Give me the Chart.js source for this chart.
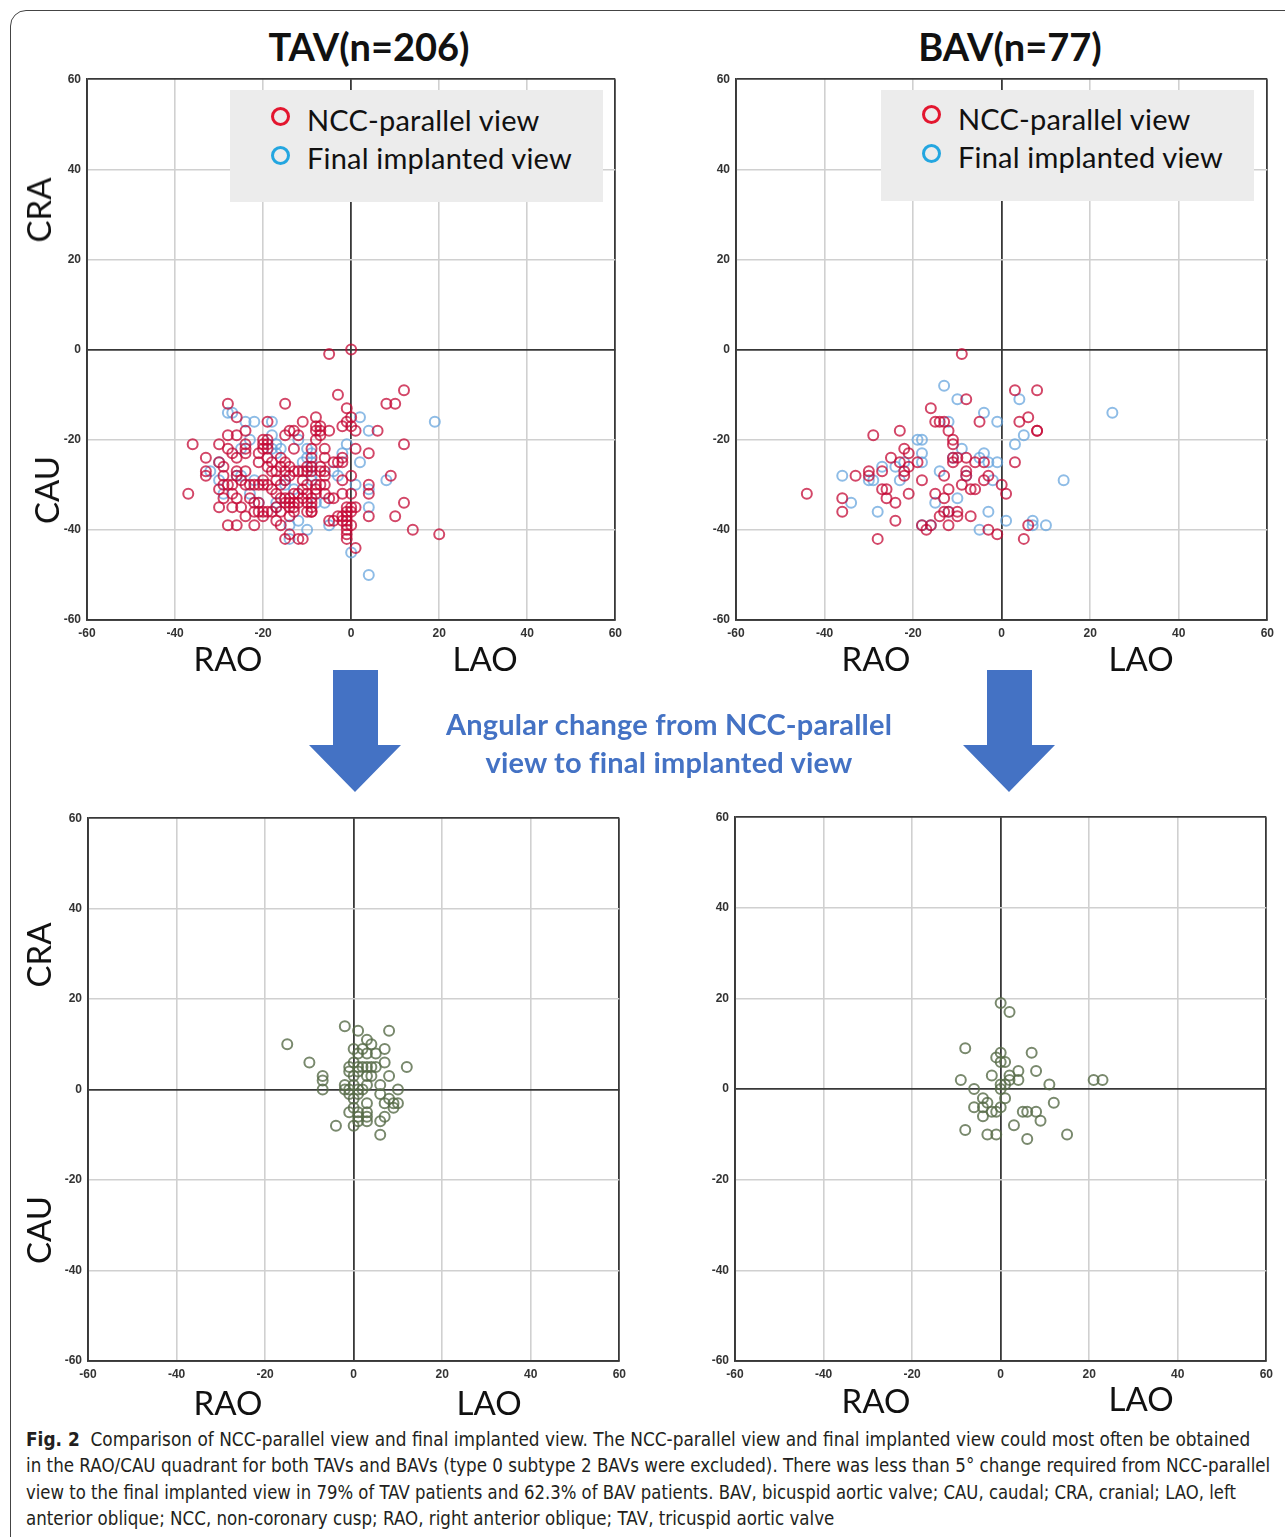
<!DOCTYPE html>
<html>
<head>
<meta charset="utf-8">
<script src="https://cdn.jsdelivr.net/npm/chart.js@4.4.1/dist/chart.umd.min.js"></script>
<style>
  body { margin: 0; width: 1285px; height: 1537px; position: relative; background: #fff; overflow: hidden; font-family: Lato, "Noto Sans", sans-serif; color: #111; }
  .frame { position: absolute; left: 10px; top: 10px; width: 1320px; height: 1580px; border: 1.5px solid #444; border-radius: 16px; }
  canvas { position: absolute; }
  .c { position: absolute; transform: translate(-50%, -50%); white-space: nowrap; }
  .rot { transform: translate(-50%, -50%) rotate(-90deg); }
  .title { font-weight: bold; font-size: 38px; }
  .axt { font-size: 33px; }
  .legend { position: absolute; background: #ececec; }
  .legend .mk { position: absolute; width: 13px; height: 13px; border-radius: 50%; border: 3px solid; }
  .legend .tx { position: absolute; font-size: 29px; white-space: nowrap; transform: translateY(-50%); letter-spacing: 0.2px; }
  .note { color: #4472c4; font-weight: bold; font-size: 29px; letter-spacing: 0.2px; }
  .cap { position: absolute; left: 26px; font-family: "Liberation Sans Narrow", "DejaVu Sans", sans-serif; font-size: 19px; color: #231f20; white-space: nowrap; transform-origin: 0 50%; }
</style>
</head>
<body>
<div class="frame"></div>

<div class="c title" style="left:369px;top:46px">TAV(n=206)</div>
<div class="c title" style="left:1010px;top:46px">BAV(n=77)</div>

<canvas id="tavTop"></canvas>
<canvas id="bavTop"></canvas>
<canvas id="tavBottom"></canvas>
<canvas id="bavBottom"></canvas>

<div class="legend" style="left:230px;top:90px;width:373px;height:112px">
  <div class="mk" style="left:41px;top:17px;border-color:#e3162f"></div>
  <div class="tx" style="left:77px;top:29px">NCC-parallel view</div>
  <div class="mk" style="left:41px;top:56px;border-color:#23a6e0"></div>
  <div class="tx" style="left:77px;top:67px">Final implanted view</div>
</div>
<div class="legend" style="left:881px;top:90px;width:373px;height:111px">
  <div class="mk" style="left:41px;top:15px;border-color:#e3162f"></div>
  <div class="tx" style="left:77px;top:28px">NCC-parallel view</div>
  <div class="mk" style="left:41px;top:54px;border-color:#23a6e0"></div>
  <div class="tx" style="left:77px;top:66px">Final implanted view</div>
</div>

<div class="c axt rot" style="left:38px;top:210px">CRA</div>
<div class="c axt rot" style="left:46px;top:490px">CAU</div>
<div class="c axt rot" style="left:38px;top:955px">CRA</div>
<div class="c axt rot" style="left:38px;top:1230px">CAU</div>
<div class="c axt" style="left:228px;top:658px">RAO</div>
<div class="c axt" style="left:485px;top:658px">LAO</div>
<div class="c axt" style="left:876px;top:658px">RAO</div>
<div class="c axt" style="left:1141px;top:658px">LAO</div>
<div class="c axt" style="left:228px;top:1402px">RAO</div>
<div class="c axt" style="left:489px;top:1402px">LAO</div>
<div class="c axt" style="left:876px;top:1400px">RAO</div>
<div class="c axt" style="left:1141px;top:1398px">LAO</div>

<svg style="position:absolute;left:0;top:0" width="1285" height="820">
  <polygon fill="#4472c4" points="333,670 378,670 378,745 401,745 355,792 309,745 333,745"/>
  <polygon fill="#4472c4" points="987,670 1032,670 1032,745 1055,745 1009,792 963,745 987,745"/>
</svg>
<div class="c note" style="left:669px;top:723px">Angular change from NCC-parallel</div>
<div class="c note" style="left:669px;top:761px">view to final implanted view</div>

<div class="cap" data-w="1224" style="top:1428px"><b>Fig. 2</b>&nbsp; Comparison of NCC-parallel view and final implanted view. The NCC-parallel view and final implanted view could most often be obtained</div>
<div class="cap" data-w="1244" style="top:1454px">in the RAO/CAU quadrant for both TAVs and BAVs (type 0 subtype 2 BAVs were excluded). There was less than 5° change required from NCC-parallel</div>
<div class="cap" data-w="1210" style="top:1481px">view to the final implanted view in 79% of TAV patients and 62.3% of BAV patients. BAV, bicuspid aortic valve; CAU, caudal; CRA, cranial; LAO, left</div>
<div class="cap" data-w="808" style="top:1507px">anterior oblique; NCC, non-coronary cusp; RAO, right anterior oblique; TAV, tricuspid aortic valve</div>

<script>
// angles in degrees: [RAO(-)/LAO(+), CAU(-)/CRA(+)]
const tavNcc = [
  [0,0],[-5,-1],[-3,-10],[12,-9],[8,-12],[10,-12],[-15,-12],[-28,-12],[-26,-15],[-19,-16],[-11,-16],[-8,-15],
  [-1,-13],[0,-15],[-2,-17],[-1,-16],[0,-17],[1,-18],[6,-18],[-7,-17],[-7,-18],[-7,-19],[-5,-18],[12,-21],
  [-36,-21],[4,-23],[1,-22],[0,-28],[4,-30],[4,-32],[9,-28],[12,-34],[4,-37],[10,-37],[14,-40],[20,-41],
  [0,-32],[0,-35],[-1,-35],[-1,-36],[-1,-37],[-1,-38],[0,-39],[-1,-40],[-1,-41],[-1,-42],[1,-44],[-2,-37],
  [-3,-37],[-5,-38],[-4,-38],[-33,-24],[-33,-27],[-33,-28],[-37,-32],[-30,-21],[-28,-19],[-26,-19],[-24,-18],
  [-28,-22],[-27,-23],[-26,-24],[-24,-21],[-24,-22],[-24,-23],[-30,-25],[-29,-26],[-29,-28],[-29,-30],[-28,-30],
  [-27,-30],[-30,-31],[-29,-33],[-30,-35],[-27,-35],[-25,-35],[-24,-37],[-28,-39],[-26,-39],[-22,-39],[-26,-27],
  [-26,-28],[-24,-27],[-25,-29],[-24,-30],[-23,-30],[-22,-30],[-21,-30],[-23,-33],[-22,-34],[-21,-34],[-22,-36],
  [-21,-36],[-20,-36],[-20,-37],[-19,-36],[-20,-30],[-19,-30],[-20,-29],[-20,-20],[-19,-20],[-20,-21],[-19,-21],
  [-20,-22],[-19,-22],[-21,-23],[-21,-25],[-19,-24],[-18,-25],[-19,-26],[-18,-27],[-17,-27],[-16,-26],[-16,-24],
  [-15,-25],[-14,-26],[-15,-19],[-14,-18],[-13,-18],[-12,-19],[-13,-22],[-15,-27],[-14,-28],[-15,-29],[-13,-27],
  [-12,-27],[-17,-29],[-16,-30],[-18,-31],[-17,-32],[-16,-33],[-15,-33],[-14,-33],[-13,-32],[-12,-32],[-11,-33],
  [-15,-34],[-14,-34],[-13,-34],[-12,-34],[-14,-35],[-13,-35],[-13,-36],[-14,-37],[-17,-35],[-16,-36],[-18,-36],
  [-17,-38],[-16,-39],[-14,-41],[-15,-42],[-12,-42],[-11,-42],[-11,-29],[-10,-30],[-11,-31],[-10,-32],[-10,-34],
  [-9,-35],[-10,-36],[-9,-36],[-9,-24],[-10,-26],[-10,-27],[-11,-27],[-8,-17],[-8,-18],[-8,-20],[-6,-22],[-6,-24],
  [-4,-25],[-3,-25],[-2,-25],[-2,-24],[-7,-26],[-7,-27],[-2,-29],[-6,-30],[-7,-30],[-6,-32],[-5,-33],[-4,-33],
  [-2,-32],[1,-35],[0,-36],[-2,-38],[-1,-39],[-9,-22],[-9,-26],[-9,-27],[-6,-27],[-6,-28],[-8,-30],[-8,-31],
  [-8,-32],[-9,-33],[-9,-34],[-9,-36],[-26,-33],[-27,-32]
];
const tavFinal = [
  [-28,-14],[-27,-14],[-24,-16],[-22,-16],[-18,-16],[2,-15],[4,-18],[19,-16],[-1,-21],[2,-25],[1,-30],[4,-31],
  [8,-29],[4,-35],[0,-45],[4,-50],[-5,-39],[-32,-27],[-30,-25],[-30,-29],[-29,-32],[-26,-28],[-22,-29],[-23,-20],
  [-18,-19],[-17,-21],[-18,-22],[-12,-20],[-16,-22],[-10,-22],[-9,-23],[-9,-25],[-9,-28],[-11,-25],[-4,-27],
  [-3,-28],[-2,-23],[-15,-29],[-15,-30],[-13,-31],[-17,-35],[-21,-34],[-23,-32],[-14,-39],[-10,-40],[-14,-42],
  [-12,-38],[-8,-34],[-6,-34],[-25,-22],[-17,-23],[-17,-34],[-10,-24],[-9,-26],[-9,-29],[-25,-28]
];
const bavNcc = [
  [-9,-1],[-8,-11],[3,-9],[8,-9],[-16,-13],[6,-15],[4,-16],[8,-18],[-5,-16],[-15,-16],[-14,-16],[-13,-16],
  [-12,-18],[-11,-20],[-11,-21],[-29,-19],[-23,-18],[-22,-22],[-21,-23],[-25,-24],[-23,-25],[-21,-26],[-19,-25],
  [-11,-24],[-11,-25],[-10,-24],[-8,-24],[-6,-25],[-4,-25],[3,-25],[-30,-27],[-27,-27],[-30,-28],[-33,-28],
  [-22,-27],[-22,-28],[-18,-29],[-13,-28],[-8,-27],[-8,-28],[-9,-30],[-4,-29],[-3,-28],[0,-30],[1,-32],[-7,-31],
  [-6,-31],[-12,-31],[-15,-32],[-13,-33],[-21,-32],[-27,-31],[-26,-31],[-26,-33],[-24,-34],[-36,-33],[-36,-36],
  [-44,-32],[-24,-38],[-28,-42],[-13,-36],[-12,-36],[-10,-36],[-10,-37],[-7,-37],[-14,-37],[-18,-39],[-17,-40],
  [-16,-39],[-12,-39],[-3,-40],[-1,-41],[6,-39],[5,-42],[8,-18]
];
const bavFinal = [
  [-13,-8],[-10,-11],[4,-11],[25,-14],[-4,-14],[-1,-16],[-12,-16],[-19,-20],[-18,-20],[5,-19],[3,-21],[-18,-23],
  [-9,-22],[-4,-23],[-22,-25],[-18,-25],[-11,-24],[-5,-24],[-3,-25],[-1,-25],[-27,-26],[-24,-26],[-30,-29],
  [-29,-29],[-36,-28],[-23,-29],[-14,-27],[-8,-28],[-2,-29],[-10,-33],[-15,-34],[-34,-34],[-28,-36],[-12,-36],
  [-3,-36],[1,-38],[-18,-39],[-16,-39],[-5,-40],[7,-38],[7,-39],[10,-39],[14,-29]
];
const tavChange = [
  [-2,14],[1,13],[8,13],[-15,10],[3,11],[4,10],[5,8],[7,9],[0,9],[1,8],[2,9],[3,8],[7,6],[12,5],[-10,6],[-7,3],
  [-7,2],[-7,0],[-1,5],[0,6],[1,5],[2,5],[3,5],[4,5],[5,5],[-1,4],[0,3],[1,4],[3,3],[4,3],[8,3],[-2,1],[-1,0],
  [0,1],[1,0],[2,0],[3,1],[6,1],[6,-1],[10,0],[-1,-1],[0,-2],[1,-1],[8,-2],[9,-3],[7,-3],[10,-3],[9,-4],[3,-3],
  [-1,-5],[0,-4],[1,-5],[3,-5],[3,-6],[3,-7],[7,-6],[6,-7],[-4,-8],[0,-8],[6,-10],[1,-6],[1,-7],[-2,0]
];
const bavChange = [
  [0,19],[2,17],[-8,9],[0,8],[-1,7],[1,6],[0,6],[7,8],[-2,3],[2,3],[4,4],[4,2],[2,2],[1,1],[8,4],[-9,2],[11,1],
  [21,2],[23,2],[0,0],[0,1],[-6,0],[1,-2],[-4,-2],[-3,-3],[-6,-4],[-4,-4],[-2,-5],[-1,-5],[0,-4],[-4,-6],[12,-3],
  [5,-5],[6,-5],[8,-5],[9,-7],[3,-8],[-8,-9],[-3,-10],[-1,-10],[6,-11],[15,-10]
];
const tickValues = [-60, -40, -20, 0, 20, 40, 60];

const RED = 'rgba(196, 10, 54, 0.75)';
const BLUE = 'rgba(104, 166, 222, 0.75)';
const GREEN = 'rgba(88, 108, 72, 0.8)';

const isDark = c => c.tick && [0, 60, -60].includes(c.tick.value);

function axis(pos) {
  return {
    type: 'linear',
    position: pos,
    min: -60,
    max: 60,
    afterBuildTicks: s => { s.ticks = tickValues.map(v => ({ value: v })); },
    afterFit: s => { if (pos === 'left') s.width = 40; else s.height = 30; },
    grid: {
      drawTicks: false,
      lineWidth: c => isDark(c) ? 1.8 : 1.6,
      color: c => isDark(c) ? '#383838' : '#d0d0d0'
    },
    border: { color: '#383838', width: 1.8 },
    ticks: {
      padding: 6,
      color: '#333',
      font: { family: 'Liberation Sans', size: 12, weight: 'bold' }
    }
  };
}

function series(points, color) {
  return {
    data: points.map(([x, y]) => ({ x, y })),
    borderColor: color,
    backgroundColor: 'rgba(0,0,0,0)',
    pointRadius: 5,
    pointBorderWidth: 2,
    showLine: false
  };
}

// box = plot area in page pixels
function plot(id, box, datasets) {
  const left = box.left - 40, top = box.top - 10;
  const w = box.right - left + 10, h = box.bottom - top + 30;
  const cv = document.getElementById(id);
  cv.width = w; cv.height = h;
  cv.style.left = left + 'px'; cv.style.top = top + 'px';
  cv.style.width = w + 'px'; cv.style.height = h + 'px';
  new Chart(cv, {
    type: 'scatter',
    data: { datasets },
    options: {
      responsive: false,
      animation: false,
      devicePixelRatio: 1,
      layout: { padding: { top: 10, right: 10, left: 0, bottom: 0 } },
      plugins: { legend: { display: false }, tooltip: { enabled: false } },
      events: [],
      scales: { x: axis('bottom'), y: axis('left') }
    }
  });
}

plot('tavTop', { left: 87, top: 76, right: 618, bottom: 620 }, [series(tavNcc, RED), series(tavFinal, BLUE)]);
plot('bavTop', { left: 736, top: 76, right: 1270, bottom: 620 }, [series(bavNcc, RED), series(bavFinal, BLUE)]);
plot('tavBottom', { left: 88, top: 815, right: 622, bottom: 1361 }, [series(tavChange, GREEN)]);
plot('bavBottom', { left: 735, top: 814, right: 1269, bottom: 1361 }, [series(bavChange, GREEN)]);

// fit caption lines to their widths in the figure
document.querySelectorAll('.cap').forEach(el => {
  const k = +el.dataset.w / el.offsetWidth;
  el.style.transform = 'scaleX(' + k + ')';
});
</script>
</body>
</html>
